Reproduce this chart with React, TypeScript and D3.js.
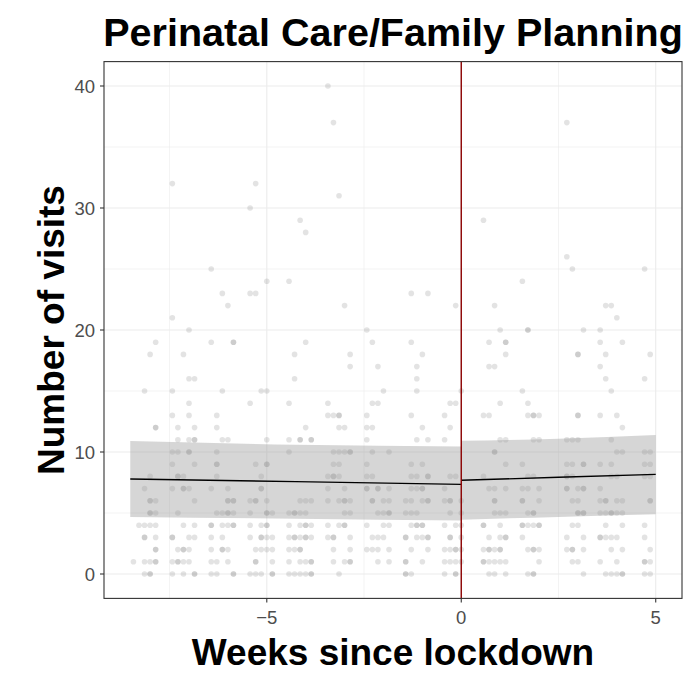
import React from 'react';
import * as d3 from 'd3';

// Each row: [number of visits, days since lockdown of the points at that value]
// (repeated day = overlapping points)
const visitRows: [number, number[]][] = [
  [0, [-57, -56, -56, -52, -50, -48, -48, -45, -44, -41, -41, -38, -37, -36, -34, -34, -31, -30, -29, -28, -27, -27, -22, -10, -10, -9, -3, -1, -1, 5, 6, 8, 12, 13, 13, 22, 26, 27, 28, 29, 29, 33, 34]],
  [1, [-59, -57, -56, -55, -55, -52, -51, -51, -50, -49, -45, -44, -42, -37, -37, -34, -31, -29, -28, -27, -27, -23, -21, -20, -20, -15, -13, -10, -10, -7, -3, -2, -1, 0, 4, 4, 5, 6, 7, 8, 14, 20, 21, 25, 28, 33, 33, 34]],
  [2, [-55, -55, -51, -50, -50, -49, -45, -43, -43, -42, -37, -36, -35, -34, -31, -30, -29, -29, -23, -20, -17, -16, -15, -13, -9, -6, -3, -2, -1, -1, 0, 4, 5, 5, 6, 7, 7, 12, 13, 13, 14, 19, 20, 20, 22, 27, 29, 34]],
  [3, [-57, -57, -55, -52, -52, -49, -48, -45, -43, -38, -36, -36, -35, -34, -31, -30, -30, -29, -28, -28, -27, -24, -23, -23, -20, -16, -15, -14, -10, -10, -8, -7, -6, -6, -2, -2, 0, 5, 7, 8, 8, 11, 19, 22, 25, 25, 26, 27, 28, 33]],
  [4, [-58, -57, -56, -55, -50, -48, -45, -45, -43, -42, -41, -41, -38, -36, -35, -35, -31, -29, -28, -28, -27, -24, -22, -21, -21, -17, -14, -13, -9, -8, -8, -7, -7, -3, -1, 0, 4, 4, 7, 11, 11, 12, 13, 14, 14, 20, 21, 26, 29, 33]],
  [5, [-56, -56, -55, -51, -44, -43, -42, -42, -41, -38, -35, -35, -34, -31, -30, -30, -29, -28, -21, -20, -15, -14, -13, -13, -10, -9, -8, -2, 0, 6, 7, 8, 12, 13, 13, 21, 21, 22, 22, 25, 26, 27, 27, 28, 29]],
  [6, [-56, -56, -55, -48, -42, -42, -41, -41, -38, -37, -37, -35, -29, -28, -27, -24, -22, -21, -21, -20, -16, -16, -14, -13, -10, -9, -7, -6, -6, -3, -2, -2, 0, 6, 6, 11, 11, 14, 20, 21, 25, 26, 26, 28, 29, 34, 34]],
  [7, [-57, -52, -50, -50, -49, -45, -42, -36, -36, -24, -21, -17, -17, -15, -15, -13, -9, -8, -7, -7, -3, 5, 6, 8, 11, 12, 14, 19, 19, 21, 22, 22, 25]],
  [8, [-56, -51, -51, -50, -44, -36, -24, -23, -23, -22, -17, -16, -9, -8, -6, -6, -2, -1, 4, 12, 13, 19, 19, 20, 27, 28, 33, 34]],
  [9, [-52, -48, -44, -44, -37, -35, -35, -23, -22, -17, -9, -7, 8, 11, 19, 20, 22, 22, 25, 27, 33, 34]],
  [10, [-52, -51, -49, -49, -44, -31, -23, -22, -21, -20, -20, -16, -13, 6, 6, 28, 29, 33, 34]],
  [11, [-51, -49, -48, -48, -43, -42, -35, -31, -29, -29, -27, -27, -17, -8, -6, -3, 7, 8, 13, 14, 19, 20, 21, 27]],
  [12, [-55, -55, -51, -48, -44, -28, -22, -21, -17, -16, -7, -2, 29]],
  [13, [-52, -49, -44, -24, -23, -22, -22, -17, -9, -3, 4, 5, 12, 13, 13, 14, 21, 21, 25, 28]],
  [14, [-49, -38, -31, -24, -16, -15, -2, -1, 7, 12]],
  [15, [-57, -52, -43, -36, -35, -14, -8, 0, 11, 27]],
  [16, [-49, -48, -30, -8, 26, 33]],
  [17, [-20, -15, -8, 5, 6, 25]],
  [18, [-56, -50, -30, -20, -7, 8, 21, 21, 26, 34]],
  [19, [-55, -45, -41, -41, -28, -16, -9, 5, 8, 8, 25, 29]],
  [20, [-49, -17, 7, 12, 12, 22, 25]],
  [21, [-52, 28]],
  [22, [-42, -21, -1, 6, 26, 27]],
  [23, [-43, -38, -37, -9, -6]],
  [24, [-35, -31, 11]],
  [25, [-45, 20, 33]],
  [26, [19]],
  [28, [-28]],
  [29, [-29, 4]],
  [30, [-38]],
  [31, [-22]],
  [32, [-52, -37]],
  [37, [-23, 19]],
  [40, [-24]],
];

// Fitted trend (weeks) before and after lockdown, with confidence band
const preFitX = [-8.51, -4.25, 0];
const preFitMid = [7.79, 7.57, 7.35];
const preFitLo = [4.67, 4.53, 4.38];
const preFitHi = [10.9, 10.6, 10.45];
const postFitX = [0, 2.5, 5];
const postFitMid = [7.68, 7.93, 8.17];
const postFitLo = [4.45, 4.68, 4.89];
const postFitHi = [10.93, 11.08, 11.39];

const lockdownWeek = 0;
const xTicks = [-5, 0, 5];
const xMinorTicks = [-7.5, -2.5, 2.5];
const yTicks = [0, 10, 20, 30, 40];
const yMinorTicks = [5, 15, 25, 35];

const titleText = 'Perinatal Care/Family Planning';
const xLabel = 'Weeks since lockdown';
const yLabel = 'Number of visits';

const W = 686;
const H = 678;
const panel = { left: 104, right: 682, top: 61.6, bottom: 598.4 };
const FONT = "'Liberation Sans', Arial, Helvetica, sans-serif";

export default function App() {
  const points = visitRows.flatMap(([v, days]) => days.map((d) => ({ x: d / 7, y: v })));
  const xAll = [...preFitX, ...postFitX];
  const xMin = d3.min(xAll) as number;
  const xMax = d3.max(xAll) as number;
  const xPad = (xMax - xMin) * 0.05;
  const yMaxV = d3.max(points, (p) => p.y) as number;
  const yPad = yMaxV * 0.05;

  const x = d3.scaleLinear().domain([xMin - xPad, xMax + xPad]).range([panel.left, panel.right]);
  const y = d3.scaleLinear().domain([-yPad, yMaxV + yPad]).range([panel.bottom, panel.top]);

  const band = (xs: number[], lo: number[], hi: number[]) =>
    d3
      .area<number>()
      .x((_, i) => x(xs[i]))
      .y0((_, i) => y(lo[i]))
      .y1((_, i) => y(hi[i]))
      .curve(d3.curveNatural)(xs) as string;
  const line = (xs: number[], mid: number[]) =>
    d3
      .line<number>()
      .x((_, i) => x(xs[i]))
      .y((_, i) => y(mid[i]))(xs) as string;

  const gridColor = '#ebebeb';
  const axisColor = '#333333';
  const tickText = '#4d4d4d';

  return (
    <svg width={W} height={H} style={{ position: 'absolute', left: 0, top: 0, background: '#fff' }} fontFamily={FONT}>
      <rect x={0} y={0} width={W} height={H} fill="#fff" />
      {/* grid */}
      {xMinorTicks.map((t) => (
        <line key={'xm' + t} x1={x(t)} x2={x(t)} y1={panel.top} y2={panel.bottom} stroke={gridColor} strokeWidth={0.6} />
      ))}
      {yMinorTicks.map((t) => (
        <line key={'ym' + t} x1={panel.left} x2={panel.right} y1={y(t)} y2={y(t)} stroke={gridColor} strokeWidth={0.6} />
      ))}
      {xTicks.map((t) => (
        <line key={'xg' + t} x1={x(t)} x2={x(t)} y1={panel.top} y2={panel.bottom} stroke={gridColor} strokeWidth={1.1} />
      ))}
      {yTicks.map((t) => (
        <line key={'yg' + t} x1={panel.left} x2={panel.right} y1={y(t)} y2={y(t)} stroke={gridColor} strokeWidth={1.1} />
      ))}
      {/* points */}
      {points.map((p, i) => (
        <circle key={i} cx={x(p.x)} cy={y(p.y)} r={2.8} fill="#7f7f7f" fillOpacity={0.22} />
      ))}
      {/* fits */}
      <path d={band(preFitX, preFitLo, preFitHi)} fill="#999999" fillOpacity={0.4} />
      <path d={band(postFitX, postFitLo, postFitHi)} fill="#999999" fillOpacity={0.4} />
      <path d={line(preFitX, preFitMid)} fill="none" stroke="#000" strokeWidth={1.4} />
      <path d={line(postFitX, postFitMid)} fill="none" stroke="#000" strokeWidth={1.4} />
      {/* lockdown */}
      <line x1={x(lockdownWeek)} x2={x(lockdownWeek)} y1={panel.top} y2={panel.bottom} stroke="#8b0000" strokeWidth={1.4} />
      {/* border */}
      <rect x={panel.left} y={panel.top} width={panel.right - panel.left} height={panel.bottom - panel.top} fill="none" stroke={axisColor} strokeWidth={1.1} />
      {/* y axis */}
      {yTicks.map((t) => (
        <g key={'yt' + t}>
          <line x1={panel.left - 4} x2={panel.left} y1={y(t)} y2={y(t)} stroke={axisColor} strokeWidth={1.1} />
          <text x={panel.left - 9} y={y(t)} dy="0.36em" textAnchor="end" fontSize={18.5} fill={tickText}>
            {t}
          </text>
        </g>
      ))}
      {/* x axis */}
      {xTicks.map((t) => (
        <g key={'xt' + t}>
          <line x1={x(t)} x2={x(t)} y1={panel.bottom} y2={panel.bottom + 4} stroke={axisColor} strokeWidth={1.1} />
          <text x={x(t)} y={panel.bottom + 26} textAnchor="middle" fontSize={18.5} fill={tickText}>
            {t < 0 ? '\u2212' + Math.abs(t) : t}
          </text>
        </g>
      ))}
      <text x={(panel.left + panel.right) / 2} y={665} textAnchor="middle" fontSize={37} fontWeight="bold" fill="#000">
        {xLabel}
      </text>
      <text
        transform={`translate(64, ${(panel.top + panel.bottom) / 2}) rotate(-90)`}
        textAnchor="middle"
        fontSize={37}
        fontWeight="bold"
        fill="#000"
      >
        {yLabel}
      </text>
      <text x={(panel.left + panel.right) / 2} y={46} textAnchor="middle" fontSize={39.5} fontWeight="bold" fill="#000">
        {titleText}
      </text>
    </svg>
  );
}
